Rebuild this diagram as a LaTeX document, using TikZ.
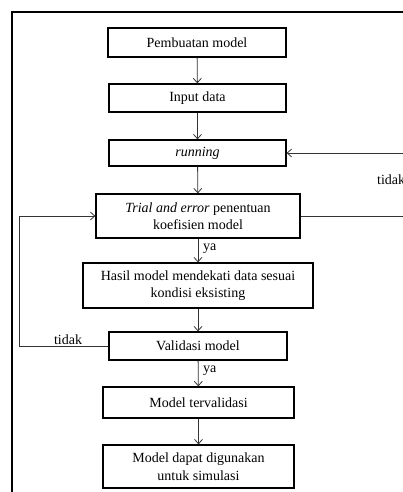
\documentclass[tikz,border=0pt]{standalone}
\usepackage{fontspec}
\setmainfont{Liberation Serif}
\usetikzlibrary{arrows.meta}

\begin{document}
\begin{tikzpicture}[x=1pt,y=-1pt,font=\fontsize{14}{17.5}\selectfont,
  stepbox/.style n args={2}{draw,line width=1.2pt,rectangle,align=center,minimum width=#1pt,minimum height=#2pt,inner sep=0pt},
  flow/.style={-{Straight Barb[length=4.5pt,width=8pt]},line width=0.8pt,black!80},
  lbl/.style={inner sep=0pt}]
\useasboundingbox (0,0) rectangle (402,492);
\draw[line width=1.3pt] (12,500) -- (12,12) -- (410,12);
\node[stepbox={178}{29}](n0) at(197,42.5) {Pembuatan model};
\node[stepbox={177}{28}](n1) at(197.5,98) {Input data};
\node[stepbox={177}{26}](n2) at(197.5,153) {\textit{running}};
\node[stepbox={204}{44}](n3) at(198,216) {\textit{Trial and error} penentuan\\koefisien model};
\node[stepbox={230}{45}](n4) at(198,285.5) {Hasil model mendekati data sesuai\\kondisi eksisting};
\node[stepbox={178}{28}](n5) at(198,346) {Validasi model};
\node[stepbox={191}{31}](n6) at(198.5,402.5) {Model tervalidasi};
\node[stepbox={191}{43}](n7) at(198.5,466.5) {Model dapat digunakan\\untuk simulasi};
\coordinate (r0) at (412,216);
\coordinate (l0) at (19,346);
\draw[flow] (n0) -- (n1);
\draw[flow] (n1) -- (n2);
\draw[flow] (n2) -- (n3);
\draw[flow] (n3) -- (n4);
\draw[flow] (n4) -- (n5);
\draw[flow] (n5) -- (n6);
\draw[flow] (n6) -- (n7);
\draw[flow] (n3.east) -- (r0) |- (n2.east);
\draw[flow] (n5.west) -- (l0) |- (n3.west);
\node[lbl,anchor=west](t0) at(377,180) {tidak};
\node[lbl](t1) at(68,340) {tidak};
\node[lbl,anchor=west](y0) at(203,249) {ya};
\node[lbl,anchor=west](y1) at(203,371) {ya};
\end{tikzpicture}
\end{document}
